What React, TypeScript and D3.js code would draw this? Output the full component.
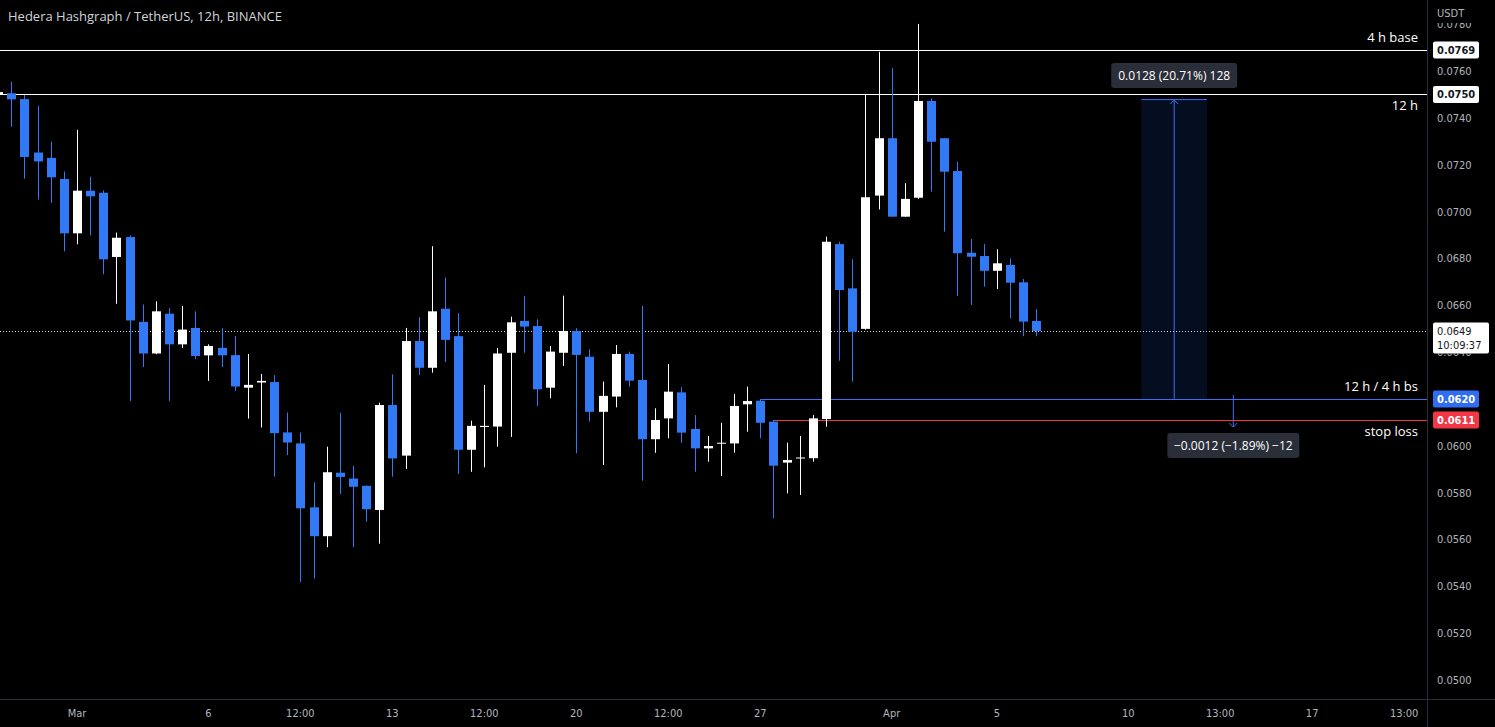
import React from 'react';
import * as d3 from 'd3';

// ---- data (12h candles, first candle opens 2022-02-26 00:00 UTC) ----
const FIRST_CANDLE = Date.UTC(2022, 1, 26, 0);
const HALF_DAY = 12 * 3600 * 1000;

const opens = [
  0.0750, 0.07505, 0.0748, 0.07252, 0.07229, 0.07139,
  0.06907, 0.07089, 0.0708, 0.06806, 0.06891, 0.06529, 0.06394, 0.06564, 0.06433, 0.06503,
  0.06386, 0.06418, 0.06387, 0.06248, 0.0627, 0.06272, 0.06057, 0.0601, 0.05737, 0.05614,
  0.05885, 0.0586, 0.05829, 0.05726, 0.06174, 0.05958, 0.06447, 0.06333, 0.06585, 0.06468,
  0.05983, 0.0608, 0.06082, 0.06397, 0.06533, 0.06511, 0.06248, 0.06397, 0.0649, 0.0638,
  0.06145, 0.0621, 0.06392, 0.06281, 0.06028, 0.06117, 0.06228, 0.06072, 0.05989, 0.0601,
  0.0601, 0.06177, 0.06192, 0.06103, 0.05928, 0.05948, 0.05947, 0.06114, 0.06861, 0.06672,
  0.06499, 0.07068, 0.07313, 0.06978, 0.07059, 0.07472, 0.07313, 0.07173, 0.06824, 0.0681,
  0.06747, 0.06772, 0.06698, 0.06533,
];
const highs = [
  0.0752, 0.07554, 0.07498, 0.07451, 0.07299, 0.07171,
  0.07349, 0.07149, 0.0709, 0.0691, 0.06898, 0.06603, 0.06617, 0.06587, 0.06597, 0.06574,
  0.06433, 0.06502, 0.06468, 0.06392, 0.06306, 0.06302, 0.06142, 0.06057, 0.05844, 0.05996,
  0.06141, 0.05914, 0.0583, 0.06184, 0.06305, 0.06503, 0.06549, 0.06852, 0.06718, 0.06566,
  0.06107, 0.0626, 0.06418, 0.06551, 0.0664, 0.0654, 0.06426, 0.06641, 0.06502, 0.06412,
  0.06274, 0.0643, 0.06402, 0.06597, 0.0616, 0.06349, 0.0625, 0.06131, 0.06042, 0.06098,
  0.06221, 0.06252, 0.06198, 0.0611, 0.06013, 0.06042, 0.06131, 0.06893, 0.06871, 0.06796,
  0.07502, 0.07682, 0.07612, 0.07121, 0.07801, 0.07483, 0.07313, 0.07213, 0.06883, 0.06861,
  0.06839, 0.068, 0.06712, 0.06583,
];
const lows = [
  0.0749, 0.07362, 0.0714, 0.07051, 0.07037, 0.0683,
  0.0686, 0.06898, 0.06732, 0.06606, 0.06191, 0.06336, 0.06391, 0.06191, 0.06418, 0.06369,
  0.06277, 0.06336, 0.06234, 0.06116, 0.06078, 0.05868, 0.0596, 0.05418, 0.05433, 0.05567,
  0.05794, 0.05567, 0.05676, 0.05582, 0.05868, 0.05901, 0.06302, 0.06312, 0.06357, 0.05879,
  0.05889, 0.05908, 0.05996, 0.06038, 0.06397, 0.0617, 0.06203, 0.06341, 0.05968, 0.06103,
  0.05918, 0.06164, 0.06252, 0.05851, 0.0597, 0.06032, 0.06013, 0.05889, 0.05932, 0.05871,
  0.0597, 0.0606, 0.06032, 0.0569, 0.05797, 0.0579, 0.05932, 0.06081, 0.06363, 0.06274,
  0.06495, 0.07009, 0.06978, 0.06978, 0.07054, 0.07085, 0.06914, 0.06639, 0.06601, 0.06679,
  0.06669, 0.06544, 0.06468, 0.06468,
];
const closes = [
  0.0751, 0.07479, 0.07233, 0.07214, 0.07146, 0.06907,
  0.07089, 0.07065, 0.06796, 0.06888, 0.06535, 0.06394, 0.06574, 0.06433, 0.06496, 0.06383,
  0.06426, 0.06386, 0.06253, 0.0626, 0.06277, 0.06054, 0.06014, 0.05733, 0.05614, 0.05887,
  0.05867, 0.05825, 0.05729, 0.06174, 0.05946, 0.06447, 0.06333, 0.06574, 0.06452, 0.05983,
  0.06085, 0.06085, 0.06394, 0.06527, 0.06509, 0.06241, 0.06402, 0.0649, 0.06388, 0.06145,
  0.06213, 0.06392, 0.06278, 0.06028, 0.0611, 0.06231, 0.06056, 0.05989, 0.05999, 0.06013,
  0.0617, 0.06191, 0.06098, 0.05915, 0.05939, 0.0595, 0.06117, 0.06871, 0.06665, 0.06487,
  0.07061, 0.07313, 0.06978, 0.07054, 0.07472, 0.07298, 0.0717, 0.06822, 0.06807, 0.06747,
  0.06779, 0.06696, 0.0653, 0.0649,
];

const priceTicks = d3.range(0.05, 0.0781, 0.002);

const timeLabels = [
  { t: Date.UTC(2022, 2, 1, 0), label: 'Mar' },
  { t: Date.UTC(2022, 2, 6, 0), label: '6' },
  { t: Date.UTC(2022, 2, 9, 12), label: '12:00' },
  { t: Date.UTC(2022, 2, 13, 0), label: '13' },
  { t: Date.UTC(2022, 2, 16, 12), label: '12:00' },
  { t: Date.UTC(2022, 2, 20, 0), label: '20' },
  { t: Date.UTC(2022, 2, 23, 12), label: '12:00' },
  { t: Date.UTC(2022, 2, 27, 0), label: '27' },
  { t: Date.UTC(2022, 3, 1, 0), label: 'Apr' },
  { t: Date.UTC(2022, 3, 5, 0), label: '5' },
  { t: Date.UTC(2022, 3, 10, 0), label: '10' },
  { t: Date.UTC(2022, 3, 13, 12), label: '13:00' },
  { t: Date.UTC(2022, 3, 17, 0), label: '17' },
  { t: Date.UTC(2022, 3, 20, 12), label: '13:00' },
];

const levels = [
  { price: 0.0769, name: '4 h base', color: '#ffffff', from: null as number | null, labelAbove: true, tagBg: '#ffffff', tagFg: '#131722' },
  { price: 0.0750, name: '12 h', color: '#ffffff', from: null as number | null, labelAbove: false, tagBg: '#ffffff', tagFg: '#131722' },
  { price: 0.0620, name: '12 h / 4 h bs', color: '#3b6ff5', from: Date.UTC(2022, 2, 27, 0), labelAbove: true, tagBg: '#2f6df2', tagFg: '#ffffff' },
  { price: 0.0611, name: 'stop loss', color: '#f23645', from: Date.UTC(2022, 2, 27, 12), labelAbove: false, tagBg: '#f23645', tagFg: '#ffffff' },
];

const lastPrice = 0.0649;
const countdown = '10:09:37';

const upMeasure = { from: 0.0620, to: 0.0748, t0: Date.UTC(2022, 3, 10, 12), t1: Date.UTC(2022, 3, 13, 0), text: '0.0128 (20.71%) 128' };
const downMeasure = { from: 0.0620, to: 0.0608, t: Date.UTC(2022, 3, 14, 0), text: '\u22120.0012 (\u22121.89%) \u221212' };

const TITLE = 'Hedera Hashgraph / TetherUS, 12h, BINANCE';

// ---- layout ----
const W = 1495;
const H = 727;
const PLOT_R = 1427;
const PLOT_B = 699;

export default function App() {
  const x = d3.scaleUtc()
    .domain([new Date(Date.UTC(2022, 2, 1, 0)), new Date(Date.UTC(2022, 3, 1, 0))])
    .range([77, 77 + 62 * 13.14]);
  const y = d3.scaleLinear().domain([0.05, 0.076]).range([680, 71]);
  const fmt = d3.format('.4f');

  const candles = opens.map((o, i) => ({
    t: FIRST_CANDLE + i * HALF_DAY,
    o, h: highs[i], l: lows[i], c: closes[i],
  }));

  const BLUE = '#3179f5';
  const MEASURE = '#3b6ff5';
  const font = '"Open Sans", "DejaVu Sans", sans-serif';
  const axisFont = '"DejaVu Sans Condensed", "Liberation Sans Narrow", "Roboto", sans-serif';

  const ux0 = x(new Date(upMeasure.t0));
  const ux1 = x(new Date(upMeasure.t1));
  const uxm = (ux0 + ux1) / 2;
  const dx = x(new Date(downMeasure.t));

  // tick labels fully hidden behind a price tag are not drawn
  const tagPrices = levels.map((l) => l.price);
  const visibleTicks = priceTicks.filter((p) => !tagPrices.some((tp) => Math.abs(y(tp) - y(p)) < 3));
  const lastTagBottom = y(lastPrice) + 22.5;

  return (
    <div style={{ position: 'fixed', left: 0, top: 0, width: W, height: H, background: '#000' }}>
      <svg width={W} height={H} style={{ display: 'block', background: '#000' }}>
        <defs>
          <clipPath id="plot">
            <rect x={0} y={0} width={PLOT_R} height={PLOT_B} />
          </clipPath>
          <clipPath id="axisClip">
            <rect x={PLOT_R + 1} y={23} width={W - PLOT_R} height={PLOT_B - 23} />
          </clipPath>
          <clipPath id="belowTag">
            <rect x={PLOT_R + 1} y={lastTagBottom} width={W - PLOT_R} height={20} />
          </clipPath>
        </defs>

        <g clipPath="url(#plot)">
          {/* measurement box */}
          <rect x={ux0} y={y(upMeasure.to)} width={ux1 - ux0} height={y(upMeasure.from) - y(upMeasure.to)}
            fill="#2962ff" fillOpacity={0.13} />
          <line x1={ux0} x2={ux1} y1={y(upMeasure.to) + 0.5} y2={y(upMeasure.to) + 0.5} stroke={MEASURE} strokeWidth={1} />
          <line x1={uxm} x2={uxm} y1={y(upMeasure.from)} y2={y(upMeasure.to) + 1} stroke={MEASURE} strokeWidth={1} />
          <path d={`M${uxm - 4},${y(upMeasure.to) + 5} L${uxm},${y(upMeasure.to) + 1} L${uxm + 4},${y(upMeasure.to) + 5}`} fill="none" stroke={MEASURE} strokeWidth={1} />

          <line x1={dx} x2={dx} y1={y(downMeasure.from) - 4} y2={y(downMeasure.to)} stroke={MEASURE} strokeWidth={1} />
          <path d={`M${dx - 4},${y(downMeasure.to) - 4} L${dx},${y(downMeasure.to)} L${dx + 4},${y(downMeasure.to) - 4}`} fill="none" stroke={MEASURE} strokeWidth={1} />

          {/* last price dotted line */}
          <line x1={0} x2={PLOT_R} y1={Math.round(y(lastPrice)) + 0.5} y2={Math.round(y(lastPrice)) + 0.5}
            stroke="#d1d4dc" strokeWidth={1} strokeDasharray="1,2" />

          {/* horizontal levels */}
          {levels.map((lv) => {
            const yy = Math.round(y(lv.price)) + 0.5;
            const x0 = lv.from === null ? 0 : x(new Date(lv.from));
            return (
              <line key={lv.name} x1={x0} x2={PLOT_R} y1={yy} y2={yy} stroke={lv.color} strokeWidth={1} />
            );
          })}

          {/* candles */}
          {candles.map((d) => {
            const cx = Math.round(x(new Date(d.t)));
            const col = d.c >= d.o ? '#ffffff' : BLUE;
            const top = y(Math.max(d.o, d.c));
            const bot = y(Math.min(d.o, d.c));
            return (
              <g key={d.t}>
                <line x1={cx + 0.5} x2={cx + 0.5} y1={y(d.h)} y2={y(d.l)} stroke={col} strokeWidth={1} />
                <rect x={cx - 4} y={top} width={9} height={Math.max(1, bot - top)} fill={col} />
              </g>
            );
          })}

          {/* level names */}
          {levels.map((lv) => (
            <text key={'n' + lv.name} x={1418} y={lv.labelAbove ? y(lv.price) - 8 : y(lv.price) + 16}
              textAnchor="end" fill="#ffffff" fontSize={13} fontFamily={font}>{lv.name}</text>
          ))}

          {/* measurement labels */}
          <rect x={uxm - 63} y={63} width={126} height={25} rx={3} fill="#2a2e39" />
          <text x={uxm} y={80} textAnchor="middle" fill="#ffffff" fontSize={12} fontFamily={font}>{upMeasure.text}</text>
          <rect x={dx - 66} y={433} width={132} height={25} rx={3} fill="#2a2e39" />
          <text x={dx} y={450} textAnchor="middle" fill="#ffffff" fontSize={12} fontFamily={font}>{downMeasure.text}</text>
        </g>

        {/* title */}
        <text x={8} y={21} fill="#d1d4dc" fontSize={13} fontFamily={font}>{TITLE}</text>

        {/* axes frame */}
        <line x1={PLOT_R + 0.5} x2={PLOT_R + 0.5} y1={0} y2={H} stroke="#2a2e39" strokeWidth={1} />
        <line x1={0} x2={W} y1={PLOT_B + 0.5} y2={PLOT_B + 0.5} stroke="#2a2e39" strokeWidth={1} />

        {/* price ticks */}
        <g clipPath="url(#axisClip)">
          {visibleTicks.map((p) => {
            const yy = y(p);
            const underLast = yy > y(lastPrice) - 9 && yy < lastTagBottom + 6;
            return (
              <text key={p} x={1437} y={yy + 4} fill="#b2b5be" fontSize={11} fontFamily={axisFont}
                clipPath={underLast ? 'url(#belowTag)' : undefined}>{fmt(p)}</text>
            );
          })}
        </g>
        <text x={1437} y={17} fill="#b2b5be" fontSize={11} fontFamily={axisFont}>USDT</text>

        {/* price tags */}
        {levels.map((lv) => {
          const yy = y(lv.price);
          return (
            <g key={'tag' + lv.name}>
              <rect x={1433} y={yy - 8.5} width={46} height={17} rx={2} fill={lv.tagBg} />
              <text x={1437} y={yy + 4} fill={lv.tagFg} fontSize={11} fontWeight={600} fontFamily={axisFont}>{fmt(lv.price)}</text>
            </g>
          );
        })}
        <g>
          <rect x={1433} y={y(lastPrice) - 8.5} width={56} height={31} rx={2} fill="#ffffff" />
          <text x={1437} y={y(lastPrice) + 4} fill="#131722" fontSize={11} fontFamily={axisFont}>{fmt(lastPrice)}</text>
          <text x={1437} y={y(lastPrice) + 18} fill="#131722" fontSize={11} fontFamily={axisFont}>{countdown}</text>
        </g>

        {/* time labels */}
        {timeLabels.map((tl, i) => (
          <text key={i} x={x(new Date(tl.t))} y={717} textAnchor="middle" fill="#b2b5be" fontSize={11} fontFamily={axisFont}>{tl.label}</text>
        ))}
      </svg>
    </div>
  );
}
